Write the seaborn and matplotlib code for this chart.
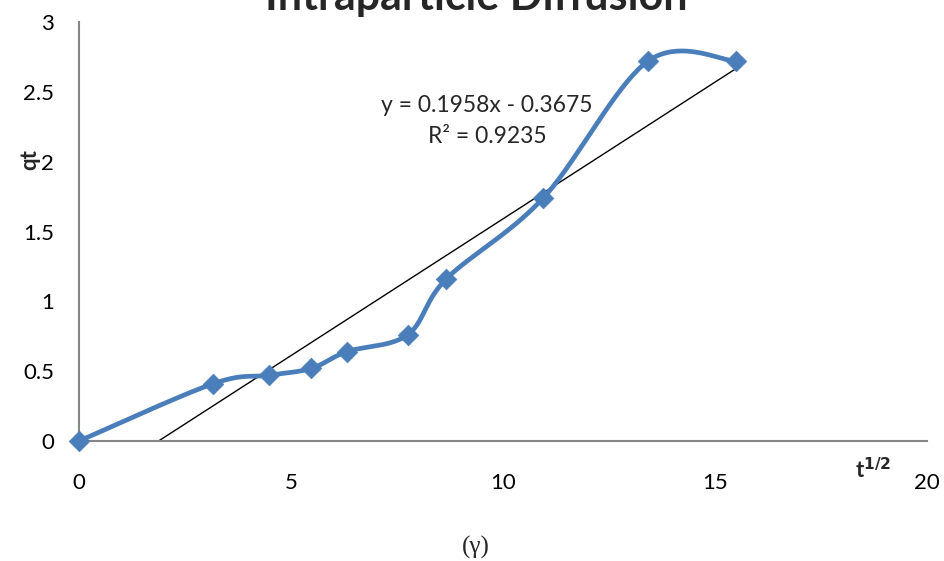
import numpy as np
import pandas as pd
import matplotlib
matplotlib.use("Agg")
import matplotlib.pyplot as plt
import seaborn as sns

# data
t_half = [0, 3.16, 4.47, 5.48, 6.32, 7.75, 8.66, 10.95, 13.42, 15.49]
qt = [0, 0.41, 0.47, 0.52, 0.64, 0.76, 1.16, 1.74, 2.72, 2.72]
slope = 0.1958
intercept = -0.3675
eq_text = "y = 0.1958x - 0.3675"
r2_text = "R² = 0.9235"
x_ticks = [0, 5, 10, 15, 20]
y_ticks = [0, 0.5, 1, 1.5, 2, 2.5, 3]
y_tick_labels = ["0", "0.5", "1", "1.5", "2", "2.5", "3"]

sns.set_theme(style="white")
plt.rcParams['font.family'] = ['Lato', 'DejaVu Sans']

BLUE = "#4A7EBB"

def smooth_curve(xs, ys, n=40):
    P = np.column_stack([xs, ys]).astype(float)
    out = []
    m = len(P)
    for i in range(m - 1):
        p0 = P[i - 1] if i > 0 else P[i]
        p1 = P[i]
        p2 = P[i + 1]
        p3 = P[i + 2] if i + 2 < m else P[i + 1]
        c1 = p1 + (p2 - p0) / 6.0
        c2 = p2 - (p3 - p1) / 6.0
        tt = np.linspace(0, 1, n)[:, None]
        seg = ((1 - tt) ** 3) * p1 + 3 * ((1 - tt) ** 2) * tt * c1 + 3 * (1 - tt) * tt ** 2 * c2 + tt ** 3 * p2
        out.append(seg if i == 0 else seg[1:])
    return np.vstack(out)

curve = smooth_curve(t_half, qt)
curve_df = pd.DataFrame({"x": curve[:, 0], "y": curve[:, 1]})
pts_df = pd.DataFrame({"x": t_half, "y": qt})

fig = plt.figure(figsize=(9.44, 5.61), dpi=100)
ax = fig.add_axes([79 / 944, 1 - 441 / 561, (927 - 79) / 944, (441 - 22) / 561])

# trendline
x0 = -intercept / slope
x1 = max(t_half)
tr_df = pd.DataFrame({"x": [x0, x1], "y": [slope * x0 + intercept, slope * x1 + intercept]})
sns.lineplot(data=tr_df, x="x", y="y", ax=ax, color="black", linewidth=1.0, sort=False, zorder=2)

sns.lineplot(data=curve_df, x="x", y="y", ax=ax, color=BLUE, linewidth=3.4, sort=False,
             estimator=None, zorder=3)
sns.scatterplot(data=pts_df, x="x", y="y", ax=ax, marker="D", s=110, color=BLUE,
                edgecolor=BLUE, linewidth=0.5, zorder=4, clip_on=False)

ax.set_xlim(0, 20)
ax.set_ylim(0, 3)
ax.set_xticks(x_ticks)
ax.set_yticks(y_ticks)
ax.set_yticklabels(y_tick_labels)
ax.tick_params(axis="both", length=0, labelsize=16, colors="black")
ax.tick_params(axis="x", pad=23)
ax.tick_params(axis="y", pad=18)
for s in ["top", "right"]:
    ax.spines[s].set_visible(False)
for s in ["left", "bottom"]:
    ax.spines[s].set_color("#868686")
    ax.spines[s].set_linewidth(1.5)
ax.set_xlabel("")
ax.set_ylabel("")
ax.grid(False)

fig.text(476 / 944, 1 - 10 / 561, "Intraparticle Diffusion", ha="center", va="baseline",
         fontsize=31, fontweight="bold")
fig.text(487 / 944, 1 - 105 / 561, eq_text, ha="center", va="center", fontsize=16.5)
fig.text(487 / 944, 1 - 137 / 561, r2_text, ha="center", va="center", fontsize=16.5)
fig.text(30 / 944, 1 - 160 / 561, "qt", rotation=90, ha="center", va="center",
         fontsize=16, fontweight="bold")
fig.text(873 / 944, 1 - 470 / 561, r"t$^{\mathbf{1/2}}$", ha="center", va="center",
         fontsize=16, fontweight="bold")
fig.text(476 / 944, 1 - 547 / 561, "(γ)", ha="center", va="center", fontsize=18,
         family=["Liberation Serif", "DejaVu Serif"])

fig.savefig("out.png", dpi=100)
